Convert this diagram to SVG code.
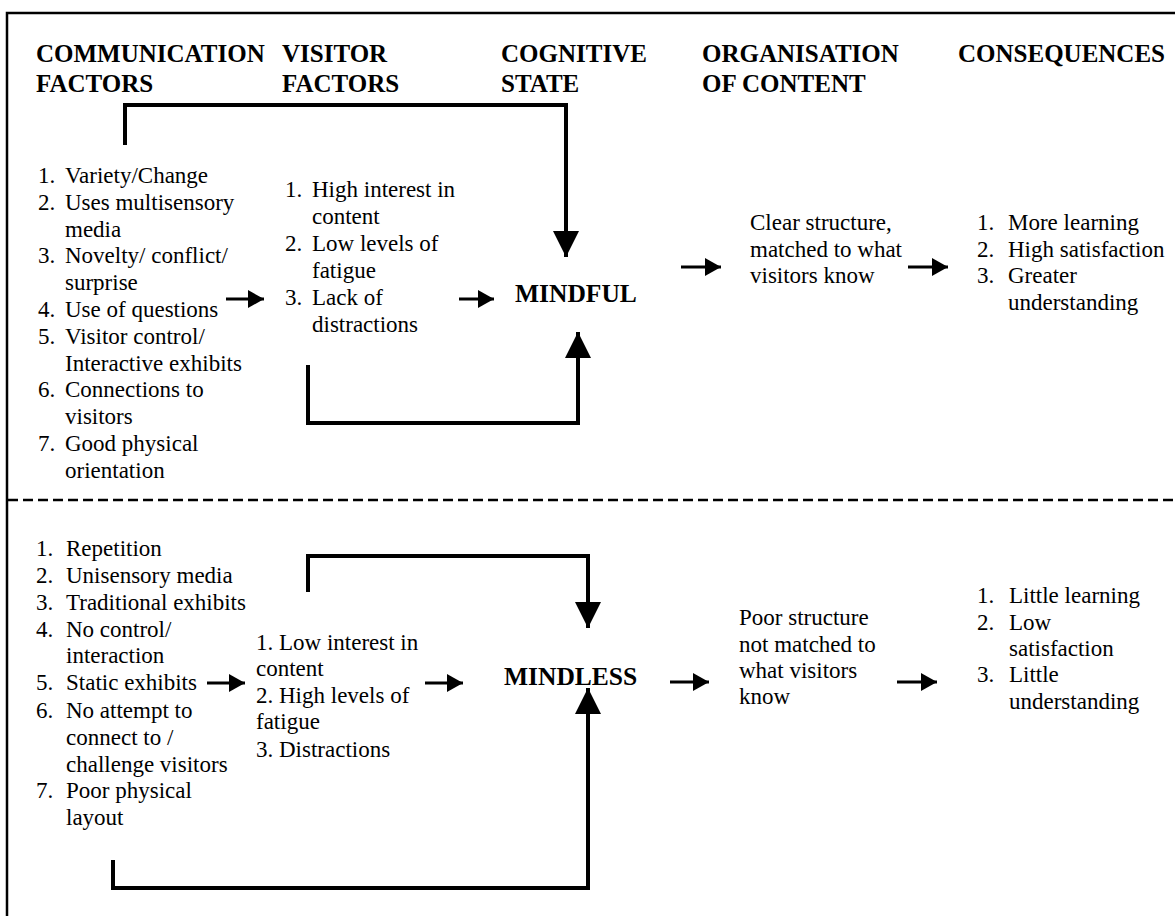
<svg xmlns="http://www.w3.org/2000/svg" width="1175" height="916" viewBox="0 0 1175 916">
<style>
text{font-family:"Liberation Serif","Times New Roman",serif;fill:#000}
.h{font-size:25px;font-weight:bold}
.t{font-size:23px}
.s{font-size:25.5px;font-weight:bold}
.frame{stroke:#000;stroke-width:2.5;fill:none}
.dash{stroke:#000;stroke-width:2.5;stroke-dasharray:10 5;fill:none}
.sa{stroke:#000;stroke-width:3;fill:none;marker-end:url(#ah)}
.loop{stroke:#000;stroke-width:4;fill:none;marker-end:url(#bh)}
</style>
<defs>
<marker id="ah" markerUnits="userSpaceOnUse" markerWidth="16" markerHeight="18" refX="16" refY="9" orient="auto"><path d="M0,0 L16,9 L0,18 z" fill="#000"/></marker>
<marker id="bh" markerUnits="userSpaceOnUse" markerWidth="26" markerHeight="26" refX="26" refY="13" orient="auto"><path d="M0,0 L26,13 L0,26 z" fill="#000"/></marker>
</defs>
<rect width="1175" height="916" fill="#fff"/>
<g id="frame">
<path class="frame" d="M7,916 V13 H1175"/>
<path class="dash" d="M8,500 H1175"/>
</g>
<g id="headers">
<text class="h" x="36" y="62">COMMUNICATION</text>
<text class="h" x="36" y="92">FACTORS</text>
<text class="h" x="282" y="62">VISITOR</text>
<text class="h" x="282" y="92">FACTORS</text>
<text class="h" x="501" y="62">COGNITIVE</text>
<text class="h" x="501" y="92">STATE</text>
<text class="h" x="702" y="62">ORGANISATION</text>
<text class="h" x="702" y="92">OF CONTENT</text>
<text class="h" x="958" y="62">CONSEQUENCES</text>
</g>
<g id="comm-mindful" class="t">
<text x="38" y="183">1.</text><text x="65" y="183">Variety/Change</text>
<text x="38" y="210">2.</text><text x="65" y="210">Uses multisensory</text>
<text x="65" y="237">media</text>
<text x="38" y="263">3.</text><text x="65" y="263">Novelty/ conflict/</text>
<text x="65" y="290">surprise</text>
<text x="38" y="317">4.</text><text x="65" y="317">Use of questions</text>
<text x="38" y="344">5.</text><text x="65" y="344">Visitor control/</text>
<text x="65" y="371">Interactive exhibits</text>
<text x="38" y="397">6.</text><text x="65" y="397">Connections to</text>
<text x="65" y="424">visitors</text>
<text x="38" y="451">7.</text><text x="65" y="451">Good physical</text>
<text x="65" y="478">orientation</text>
</g>
<g id="visitor-mindful" class="t">
<text x="285" y="197">1.</text><text x="312" y="197">High interest in</text>
<text x="312" y="224">content</text>
<text x="285" y="251">2.</text><text x="312" y="251">Low levels of</text>
<text x="312" y="278">fatigue</text>
<text x="285" y="305">3.</text><text x="312" y="305">Lack of</text>
<text x="312" y="332">distractions</text>
</g>
<g id="mindful"><text class="s" x="515" y="302">MINDFUL</text></g>
<g id="org-mindful" class="t">
<text x="750" y="230">Clear structure,</text>
<text x="750" y="257">matched to what</text>
<text x="750" y="283">visitors know</text>
</g>
<g id="cons-mindful" class="t">
<text x="977" y="230">1.</text><text x="1008" y="230">More learning</text>
<text x="977" y="257">2.</text><text x="1008" y="257">High satisfaction</text>
<text x="977" y="283">3.</text><text x="1008" y="283">Greater</text>
<text x="1008" y="310">understanding</text>
</g>
<g id="comm-mindless" class="t">
<text x="36" y="556">1.</text><text x="66" y="556">Repetition</text>
<text x="36" y="583">2.</text><text x="66" y="583">Unisensory media</text>
<text x="36" y="610">3.</text><text x="66" y="610">Traditional exhibits</text>
<text x="36" y="637">4.</text><text x="66" y="637">No control/</text>
<text x="66" y="663">interaction</text>
<text x="36" y="690">5.</text><text x="66" y="690">Static exhibits</text>
<text x="36" y="718">6.</text><text x="66" y="718">No attempt to</text>
<text x="66" y="745">connect to /</text>
<text x="66" y="772">challenge visitors</text>
<text x="36" y="798">7.</text><text x="66" y="798">Poor physical</text>
<text x="66" y="825">layout</text>
</g>
<g id="visitor-mindless" class="t">
<text x="256" y="650">1. Low interest in</text>
<text x="256" y="676">content</text>
<text x="256" y="703">2. High levels of</text>
<text x="256" y="729">fatigue</text>
<text x="256" y="757">3. Distractions</text>
</g>
<g id="mindless"><text class="s" x="504" y="685">MINDLESS</text></g>
<g id="org-mindless" class="t">
<text x="739" y="625">Poor structure</text>
<text x="739" y="652">not matched to</text>
<text x="739" y="678">what visitors</text>
<text x="739" y="704">know</text>
</g>
<g id="cons-mindless" class="t">
<text x="977" y="603">1.</text><text x="1009" y="603">Little learning</text>
<text x="977" y="630">2.</text><text x="1009" y="630">Low</text>
<text x="1009" y="656">satisfaction</text>
<text x="977" y="682">3.</text><text x="1009" y="682">Little</text>
<text x="1009" y="709">understanding</text>
</g>
<g id="connectors">
<line class="sa" x1="226" y1="299" x2="264" y2="299"/>
<line class="sa" x1="459" y1="299" x2="494" y2="299"/>
<line class="sa" x1="681" y1="267" x2="721" y2="267"/>
<line class="sa" x1="908" y1="267" x2="948" y2="267"/>
<path class="loop" d="M125,145 V105 H566 V257"/>
<path class="loop" d="M308,365 V423 H578 V332"/>
<line class="sa" x1="207" y1="683" x2="245" y2="683"/>
<line class="sa" x1="425" y1="683" x2="463" y2="683"/>
<line class="sa" x1="670" y1="682" x2="709" y2="682"/>
<line class="sa" x1="897" y1="682" x2="937" y2="682"/>
<path class="loop" d="M308,592 V556 H588 V628"/>
<path class="loop" d="M113,860 V888 H588 V688"/>
</g>
</svg>
